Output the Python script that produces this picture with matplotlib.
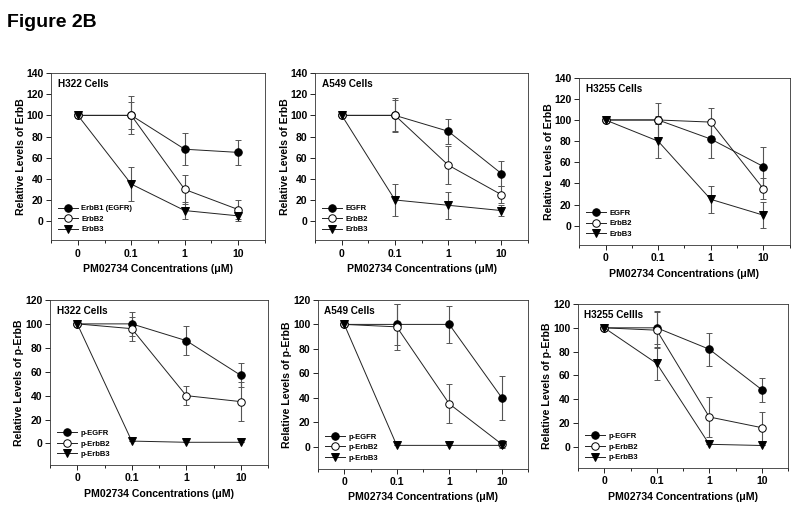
import numpy as np
import matplotlib
matplotlib.use('Agg')
import matplotlib.pyplot as plt
from matplotlib.ticker import FixedLocator
from matplotlib.lines import Line2D

plt.rcParams['font.family'] = ['Liberation Sans', 'DejaVu Sans']
plt.rcParams['font.weight'] = 'bold'

# ── data ──────────────────────────────────────────────────────────────────────
CONC = ['0', '0.1', '1', '10']

H322_EGFR      = [100, 100, 68, 65];  H322_EGFR_ERR  = [0, 13, 15, 12]
H322_B2        = [100, 100, 30, 11];  H322_B2_ERR    = [0, 18, 14, 9]
H322_B3        = [100, 35, 10, 5];    H322_B3_ERR    = [0, 16, 8, 5]

A549_EGFR      = [100, 100, 85, 45];  A549_EGFR_ERR  = [0, 15, 12, 12]
A549_B2        = [100, 100, 53, 25];  A549_B2_ERR    = [0, 16, 18, 8]
A549_B3        = [100, 20, 15, 10];   A549_B3_ERR    = [0, 15, 13, 5]

H3255_EGFR     = [100, 100, 82, 56];  H3255_EGFR_ERR = [0, 4, 18, 18]
H3255_B2       = [100, 100, 98, 35];  H3255_B2_ERR   = [0, 16, 13, 10]
H3255_B3       = [100, 80, 25, 10];   H3255_B3_ERR   = [0, 16, 13, 12]

H322_PEGFR     = [100, 100, 86, 57];  H322_PEGFR_ERR = [0, 10, 12, 10]
H322_PB2       = [100, 96, 40, 35];   H322_PB2_ERR   = [0, 10, 8, 16]
H322_PB3       = [100, 2, 1, 1];      H322_PB3_ERR   = [0, 0, 0, 0]

A549_PEGFR     = [100, 100, 100, 40]; A549_PEGFR_ERR = [0, 17, 15, 18]
A549_PB2       = [100, 98, 35, 2];    A549_PB2_ERR   = [0, 19, 16, 3]
A549_PB3       = [100, 1, 1, 1];      A549_PB3_ERR   = [0, 0, 0, 0]

H3255_PEGFR    = [100, 100, 82, 48];  H3255_PEGFR_ERR = [0, 14, 14, 10]
H3255_PB2      = [100, 98, 25, 16];   H3255_PB2_ERR   = [0, 15, 17, 13]
H3255_PB3      = [100, 70, 2, 1];     H3255_PB3_ERR   = [0, 14, 0, 0]

LABELS_TOP1 = ['ErbB1 (EGFR)', 'ErbB2', 'ErbB3']
LABELS_TOP  = ['EGFR', 'ErbB2', 'ErbB3']
LABELS_BOT  = ['p-EGFR', 'p-ErbB2', 'p-ErbB3']

# ── figure ────────────────────────────────────────────────────────────────────
fig = plt.figure(figsize=(8.0, 5.11), dpi=100, facecolor='white')
fig.text(0.009, 0.947, 'Figure 2B', fontsize=14, fontweight='bold', ha='left', va='baseline')

STYLES = [dict(marker='o', mfc='black', mec='black'),
          dict(marker='o', mfc='white', mec='black'),
          dict(marker='v', mfc='black', mec='black')]
LINE_C = '#222222'

def panel(rect, series, errs, labels, cell, ylab, ymax, yticks):
    ax = fig.add_axes(rect)
    handles = []
    for s, e, lab, st in zip(series, errs, labels, STYLES):
        ax.errorbar(CONC, s, yerr=e, color=LINE_C, lw=0.7, ms=5.4, mew=0.7,
                    ecolor='#555555', elinewidth=0.8, capsize=2.2, capthick=0.8, **st)
        handles.append(Line2D([0], [0], color=LINE_C, lw=0.7, ms=5.4, mew=0.7,
                              label=lab, **st))
    ax.set_xlim(-0.5, 3.5)
    ax.set_ylim(-18, ymax)
    ax.set_yticks(yticks)
    ax.xaxis.set_minor_locator(FixedLocator([-0.5, 0.5, 1.5, 2.5, 3.5]))
    ax.tick_params(axis='both', which='major', direction='out', length=3.5, width=0.6,
                   labelsize=7.5, pad=2)
    ax.tick_params(axis='x', which='minor', direction='out', length=2.5, width=0.6)
    ax.tick_params(axis='x', pad=2.5)
    for lbl in ax.get_xticklabels() + ax.get_yticklabels():
        lbl.set_fontweight('bold')
    for sp in ax.spines.values():
        sp.set_linewidth(0.6); sp.set_color('#333333')
    ax.set_xlabel('PM02734 Concentrations (μM)', fontsize=7.6, fontweight='bold', labelpad=4)
    ax.set_ylabel(ylab, fontsize=7.6, fontweight='bold', labelpad=0.5)
    ax.text(0.03, 0.965, cell, transform=ax.transAxes, fontsize=7.2, fontweight='bold',
            ha='left', va='top')
    ax.legend(handles=handles, loc='lower left', bbox_to_anchor=(0.0, 0.0), frameon=False,
              handlelength=2.6, labelspacing=0.42, borderpad=0.4, handletextpad=0.45,
              prop=dict(size=5.5, weight='bold'))
    return ax

T_Y = [0, 20, 40, 60, 80, 100, 120, 140]
B_Y = [0, 20, 40, 60, 80, 100, 120]

panel([0.064, 0.530, 0.267, 0.327], [H322_EGFR, H322_B2, H322_B3],
      [H322_EGFR_ERR, H322_B2_ERR, H322_B3_ERR], LABELS_TOP1, 'H322 Cells',
      'Relative Levels of ErbB', 140, T_Y)
panel([0.394, 0.530, 0.266, 0.327], [A549_EGFR, A549_B2, A549_B3],
      [A549_EGFR_ERR, A549_B2_ERR, A549_B3_ERR], LABELS_TOP, 'A549 Cells',
      'Relative Levels of ErbB', 140, T_Y)
panel([0.724, 0.521, 0.263, 0.327], [H3255_EGFR, H3255_B2, H3255_B3],
      [H3255_EGFR_ERR, H3255_B2_ERR, H3255_B3_ERR], LABELS_TOP, 'H3255 Cells',
      'Relative Levels of ErbB', 140, T_Y)

panel([0.0625, 0.090, 0.2725, 0.323], [H322_PEGFR, H322_PB2, H322_PB3],
      [H322_PEGFR_ERR, H322_PB2_ERR, H322_PB3_ERR], LABELS_BOT, 'H322 Cells',
      'Relative Levels of p-ErbB', 120, B_Y)
panel([0.3975, 0.083, 0.2625, 0.330], [A549_PEGFR, A549_PB2, A549_PB3],
      [A549_PEGFR_ERR, A549_PB2_ERR, A549_PB3_ERR], LABELS_BOT, 'A549 Cells',
      'Relative Levels of p-ErbB', 120, B_Y)
panel([0.7225, 0.084, 0.2625, 0.321], [H3255_PEGFR, H3255_PB2, H3255_PB3],
      [H3255_PEGFR_ERR, H3255_PB2_ERR, H3255_PB3_ERR], LABELS_BOT, 'H3255 Cellls',
      'Relative Levels of p-ErbB', 120, B_Y)

fig.savefig('out.png', dpi=100, facecolor='white')
